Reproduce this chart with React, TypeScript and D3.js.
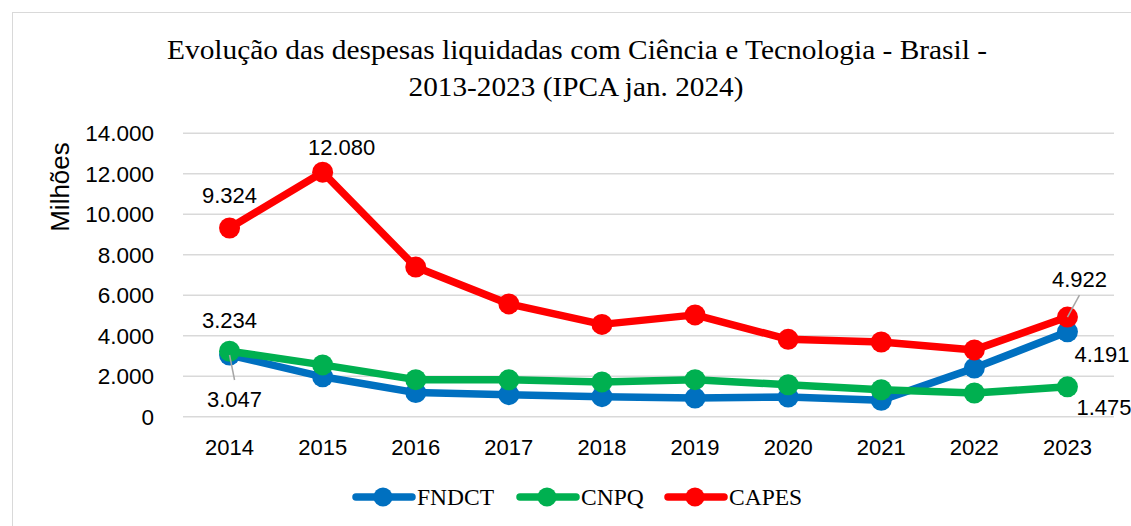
import React, { useEffect, useRef } from "react";
import * as d3 from "d3";

const years = ["2014", "2015", "2016", "2017", "2018", "2019", "2020", "2021", "2022", "2023"];
const fndct = [3047, 1970, 1190, 1090, 990, 920, 970, 810, 2400, 4191];
const cnpq = [3234, 2560, 1830, 1820, 1720, 1830, 1580, 1330, 1170, 1475];
const capes = [9324, 12080, 7390, 5570, 4560, 5030, 3820, 3690, 3300, 4922];
const yTicks = [0, 2000, 4000, 6000, 8000, 10000, 12000, 14000];

const seriesNames = ["FNDCT", "CNPQ", "CAPES"];
const seriesColors = ["#0070C0", "#00B050", "#FF0000"];

const W = 1131;
const H = 526;
const fmt = (v: number) => d3.format(",")(v).replace(/,/g, ".");

const App: React.FC = () => {
  const svgRef = useRef<SVGSVGElement | null>(null);

  useEffect(() => {
    if (!svgRef.current) return;
    const svg = d3.select(svgRef.current);
    svg.selectAll("*").remove();

    const left = 183;
    const right = 1114;
    const top = 133.3;
    const bottom = 416.7;
    const sans = "'Liberation Sans', Arial, sans-serif";
    const serif = "'Liberation Serif', 'Times New Roman', serif";

    const x = d3.scaleBand<string>().domain(years).range([left, right]);
    const y = d3.scaleLinear().domain([0, 14000]).range([bottom, top]);
    const cx = (d: string) => (x(d) ?? 0) + x.bandwidth() / 2;

    // outer chart frame
    svg
      .append("rect")
      .attr("x", 12.5)
      .attr("y", 12.5)
      .attr("width", 1140)
      .attr("height", 540)
      .attr("fill", "#fff")
      .attr("stroke", "#d9d9d9")
      .attr("stroke-width", 1);

    // title (original is a bit wider than the font)
    const title = svg
      .append("text")
      .attr("text-anchor", "middle")
      .attr("font-family", serif)
      .attr("font-size", 27)
      .attr("fill", "#000");
    title
      .append("tspan")
      .attr("x", 577)
      .attr("y", 59)
      .attr("textLength", 820)
      .attr("lengthAdjust", "spacingAndGlyphs")
      .text("Evolução das despesas liquidadas com Ciência e Tecnologia - Brasil -");
    title
      .append("tspan")
      .attr("x", 576)
      .attr("y", 96)
      .attr("textLength", 335)
      .attr("lengthAdjust", "spacingAndGlyphs")
      .text("2013-2023 (IPCA jan. 2024)");

    // gridlines
    svg
      .append("g")
      .selectAll("line")
      .data(yTicks)
      .enter()
      .append("line")
      .attr("x1", left)
      .attr("x2", right)
      .attr("y1", (d) => y(d))
      .attr("y2", (d) => y(d))
      .attr("stroke", "#d9d9d9")
      .attr("stroke-width", 1.5);

    // y tick labels
    svg
      .append("g")
      .selectAll("text")
      .data(yTicks)
      .enter()
      .append("text")
      .attr("x", 154)
      .attr("y", (d) => y(d))
      .attr("dy", "0.35em")
      .attr("text-anchor", "end")
      .attr("font-family", sans)
      .attr("font-size", 22.5)
      .attr("fill", "#000")
      .text((d) => fmt(d));

    // y axis title
    svg
      .append("text")
      .attr("transform", `translate(69,187) rotate(-90)`)
      .attr("text-anchor", "middle")
      .attr("font-family", sans)
      .attr("font-size", 26)
      .attr("fill", "#000")
      .text("Milhões");

    // x labels
    svg
      .append("g")
      .selectAll("text")
      .data(years)
      .enter()
      .append("text")
      .attr("x", (d) => cx(d))
      .attr("y", 455)
      .attr("text-anchor", "middle")
      .attr("font-family", sans)
      .attr("font-size", 22)
      .attr("fill", "#000")
      .text((d) => d);

    // series
    const allSeries = [fndct, cnpq, capes];
    const line = d3
      .line<number>()
      .x((_, i) => cx(years[i]))
      .y((d) => y(d));

    allSeries.forEach((vals, si) => {
      const g = svg.append("g");
      g.append("path")
        .datum(vals)
        .attr("d", line)
        .attr("fill", "none")
        .attr("stroke", seriesColors[si])
        .attr("stroke-width", 7.5)
        .attr("stroke-linejoin", "round")
        .attr("stroke-linecap", "round");
      g.selectAll("circle")
        .data(vals)
        .enter()
        .append("circle")
        .attr("cx", (_, i) => cx(years[i]))
        .attr("cy", (d) => y(d))
        .attr("r", 10.5)
        .attr("fill", seriesColors[si]);
    });

    // data labels
    const labels: { v: number[]; i: number; dx: number; by: number; anchor: string; leader?: [number, number, number, number] }[] = [
      { v: capes, i: 0, dx: 0, by: 203, anchor: "middle" },
      { v: capes, i: 1, dx: 19, by: 155, anchor: "middle" },
      { v: cnpq, i: 0, dx: 0, by: 328, anchor: "middle" },
      { v: fndct, i: 0, dx: 5, by: 407, anchor: "middle", leader: [0, 0, 5, 25] },
      { v: capes, i: 9, dx: 12, by: 287, anchor: "middle", leader: [0, 0, 12, -22] },
      { v: fndct, i: 9, dx: 7, by: 362, anchor: "start" },
      { v: cnpq, i: 9, dx: 9, by: 415, anchor: "start" },
    ];
    labels.forEach((l) => {
      const px = cx(years[l.i]);
      const py = y(l.v[l.i]);
      if (l.leader) {
        svg
          .append("line")
          .attr("x1", px + l.leader[0])
          .attr("y1", py + l.leader[1])
          .attr("x2", px + l.leader[2])
          .attr("y2", py + l.leader[3])
          .attr("stroke", "#a6a6a6")
          .attr("stroke-width", 1.5);
      }
      svg
        .append("text")
        .attr("x", px + l.dx)
        .attr("y", l.by)
        .attr("text-anchor", l.anchor)
        .attr("font-family", sans)
        .attr("font-size", 22)
        .attr("fill", "#000")
        .text(fmt(l.v[l.i]));
    });

    // legend
    const legendX = [356, 520, 668];
    const lg = svg.append("g");
    seriesNames.forEach((name, si) => {
      const lx = legendX[si];
      lg.append("line")
        .attr("x1", lx)
        .attr("x2", lx + 56)
        .attr("y1", 497)
        .attr("y2", 497)
        .attr("stroke", seriesColors[si])
        .attr("stroke-width", 7.5)
        .attr("stroke-linecap", "round");
      lg.append("circle")
        .attr("cx", lx + 27)
        .attr("cy", 497)
        .attr("r", 9.5)
        .attr("fill", seriesColors[si]);
      lg.append("text")
        .attr("x", lx + 61)
        .attr("y", 505)
        .attr("font-family", serif)
        .attr("font-size", 23.5)
        .attr("fill", "#000")
        .text(name);
    });
  }, []);

  return (
    <div style={{ position: "absolute", left: 0, top: 0, width: W, height: H, overflow: "hidden", background: "#fff" }}>
      <svg ref={svgRef} width={W} height={H} style={{ display: "block" }} />
    </div>
  );
};

export default App;
